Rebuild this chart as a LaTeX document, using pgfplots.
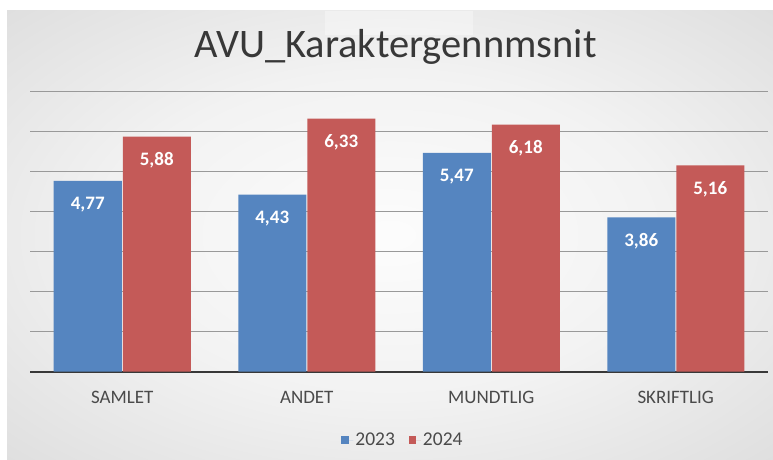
\documentclass[border=0pt]{standalone}
\usepackage{pgfplots}
\pgfplotsset{compat=1.18}
\usepackage{fontspec}
\setmainfont{Carlito}
\definecolor{bblue}{HTML}{5585C0}
\definecolor{rred}{HTML}{C45A58}
\definecolor{titlegray}{HTML}{383838}
\definecolor{labgray}{HTML}{4A4A4A}
\pgfdeclareradialshading{bgshade}{\pgfpoint{0bp}{0bp}}{color(0bp)=(white!99!black); color(18bp)=(white!95!black); color(62bp)=(white!76!black)}
\begin{document}
\begin{tikzpicture}[x=1pt,y=1pt]
\fill[white] (0,0) rectangle (773,459);
\shade[shading=bgshade] (7,0) rectangle (773,448);
\fill[white, opacity=0.35] (325,424) -- (473,424) -- (473,448) -- (325,448) -- cycle;
\node[anchor=base, text=titlegray, font=\fontsize{40.5}{44}\selectfont] at (395.5,401) {AVU\_Karaktergennmsnit};
\begin{axis}[
  at={(30pt,87.3pt)}, anchor=south west,
  scale only axis, width=738pt, height=280pt,
  xmin=-0.5, xmax=3.5, ymin=0, ymax=7,
  ybar=1pt, bar width=68pt,
  xtick={0,1,2,3},
  xticklabels={SAMLET,ANDET,MUNDTLIG,SKRIFTLIG},
  ytick={0,1,...,7}, yticklabels={},
  major tick length=0pt,
  ymajorgrids,
  grid style={draw=black!40, line width=0.9pt},
  axis x line*=bottom, axis y line*=left,
  axis line style={-},
  y axis line style={draw=none},
  x axis line style={draw=titlegray, line width=2pt},
  xticklabel style={anchor=base, yshift=-31.8pt, text=labgray, font=\fontsize{19}{21}\selectfont},
  /pgf/number format/assume math mode=true,
  nodes near coords={\pgfmathprintnumber[fixed,fixed zerofill,precision=2,use comma]{\pgfplotspointmeta}},
  every node near coord/.append style={anchor=center, yshift=-24pt, text=white, font=\bfseries\fontsize{19}{21}\selectfont},
  legend style={at={(0.5054,-0.244)}, anchor=center, legend columns=2, draw=none, fill=none, font=\fontsize{19.5}{21}\selectfont, text=labgray, /tikz/every even column/.append style={column sep=12pt}},
  legend image code/.code={\path (0pt,0pt) -- (12pt,0pt); \fill[#1] (0pt,-3.7pt) rectangle (7.5pt,3.7pt);},
]
\addplot[fill=bblue, draw=none] coordinates {(0,4.77) (1,4.43) (2,5.47) (3,3.86)};
\addplot[fill=rred, draw=none] coordinates {(0,5.88) (1,6.33) (2,6.18) (3,5.16)};
\legend{2023,2024}
\end{axis}
\end{tikzpicture}
\end{document}
